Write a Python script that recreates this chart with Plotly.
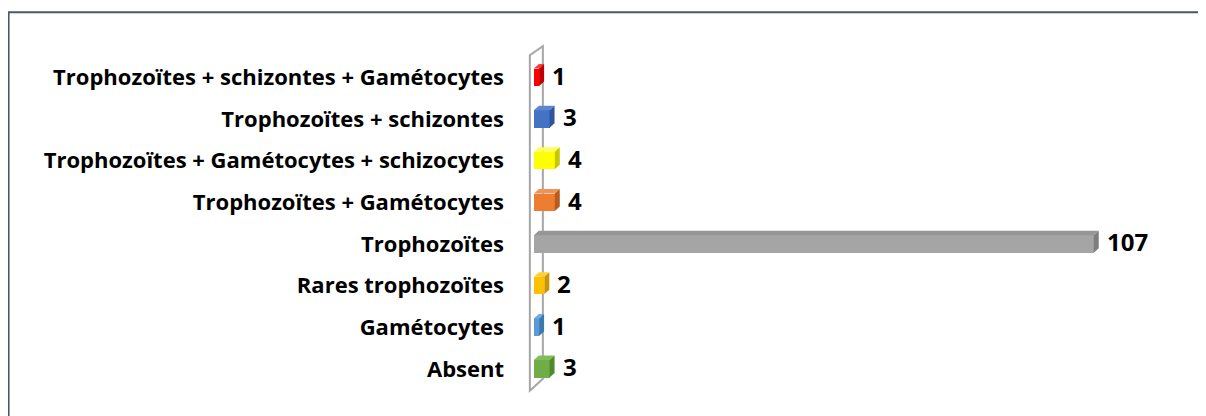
import plotly.graph_objects as go

categories = ["Absent", "Gamétocytes", "Rares trophozoïtes", "Trophozoïtes",
              "Trophozoïtes + Gamétocytes", "Trophozoïtes + Gamétocytes + schizocytes",
              "Trophozoïtes + schizontes", "Trophozoïtes + schizontes + Gamétocytes"]
values = [3, 1, 2, 107, 4, 4, 3, 1]
front_colors = ["#70ad47", "#5b9bd5", "#ffc000", "#a5a5a5", "#ed7d31", "#ffff00", "#4472c4", "#ff0000"]
top_colors = ["#82bd5a", "#72abe0", "#ffd033", "#969696", "#f39256", "#ffff55", "#5b87d2", "#ff3a3a"]
side_colors = ["#4f8a2d", "#3a78b0", "#c89600", "#7e7e7e", "#b85c1e", "#c8c800", "#2f569c", "#c00000"]

W, H = 1206, 416
OFF = 8              # page body margin
px_per_x = 5.23
px_per_y = 41.7
x0_px = 534 - OFF    # pixel of value 0 (figure coords)
y0_px = 369 - OFF    # pixel of first category
xr = [-1.5, 121.0]
yr = [-0.7, 7.8]
ml = x0_px + xr[0] * px_per_x
mr = W - (x0_px + xr[1] * px_per_x)
mt = y0_px - yr[1] * px_per_y
mb = H - (y0_px - yr[0] * px_per_y)
pw = W - ml - mr
ph = H - mt - mb

bw = 0.42
dx = 5 / px_per_x
dy = 4.5 / px_per_y

fig = go.Figure()

fig.add_trace(go.Bar(
    x=values, y=list(range(len(values))), orientation="h", width=bw,
    marker=dict(color=front_colors, line=dict(width=0)), hoverinfo="skip",
    showlegend=False))

for i, v in enumerate(values):
    yt = i + bw / 2
    yb = i - bw / 2
    fig.add_trace(go.Scatter(
        x=[0, dx, v + dx, v, 0], y=[yt, yt + dy, yt + dy, yt, yt],
        fill="toself", fillcolor=top_colors[i], mode="lines", line=dict(width=0),
        hoverinfo="skip", showlegend=False))
    fig.add_trace(go.Scatter(
        x=[v, v + dx, v + dx, v, v], y=[yb, yb + dy, yt + dy, yt, yb],
        fill="toself", fillcolor=side_colors[i], mode="lines", line=dict(width=0),
        hoverinfo="skip", showlegend=False))
    fig.add_annotation(x=v + dx, y=i, text=str(v), xanchor="left", yanchor="middle",
                       xshift=6, yshift=2, showarrow=False,
                       font=dict(family="Open Sans", size=24, color="#000000", weight="bold"))

# side wall
wf = (530 - OFF - x0_px) / px_per_x
wb = (543 - OFF - x0_px) / px_per_x
wt_f = (y0_px - (55 - OFF)) / px_per_y
wt_b = (y0_px - (46 - OFF)) / px_per_y
wb_f = (y0_px - (391 - OFF)) / px_per_y
wb_b = (y0_px - (379 - OFF)) / px_per_y
fig.add_shape(type="path", xref="x", yref="y", layer="below",
              path=f"M {wf},{wb_f} L {wf},{wt_f} L {wb},{wt_b} L {wb},{wb_b} Z",
              line=dict(color="#a6a6a6", width=2), fillcolor="rgba(0,0,0,0)")

# outer frame
def px2paper_x(p):
    return (p - ml) / pw

def px2paper_y(p):
    return (H - mb - p) / ph

fig.add_shape(type="path", xref="paper", yref="paper", layer="above",
              path=f"M {px2paper_x(9 - OFF)},{px2paper_y(H + 5)} L {px2paper_x(9 - OFF)},{px2paper_y(12 - OFF)} L {px2paper_x(W + 5)},{px2paper_y(12 - OFF)}",
              line=dict(color="#4d5866", width=2))

fig.update_layout(
    width=W, height=H,
    margin=dict(l=ml, r=mr, t=mt, b=mb),
    paper_bgcolor="white", plot_bgcolor="white",
    bargap=0,
    xaxis=dict(range=xr, showgrid=False, zeroline=False, showticklabels=False,
               showline=False, ticks=""),
    yaxis=dict(range=yr, tickvals=list(range(len(categories))), ticktext=categories,
               showgrid=False, zeroline=False, showline=False, ticks="",
               ticklabelstandoff=21,
               tickfont=dict(family="Open Sans", size=22, color="#000000", weight="bold")),
)

fig.write_html("out.html")
